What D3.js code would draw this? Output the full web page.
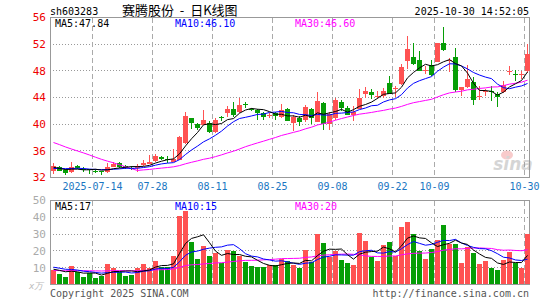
<!DOCTYPE html>
<html>
<head>
<meta charset="utf-8">
<title>sh603283 日K线图</title>
<script src="https://cdnjs.cloudflare.com/ajax/libs/d3/7.8.5/d3.min.js"></script>
<style>
  body { margin: 0; background: #fff; }
  text { font-family: "DejaVu Sans Mono", monospace; font-size: 10px; }
</style>
</head>
<body>
<script>
// trading days shown on the chart
var dates = [
  "2025-07-03","2025-07-04","2025-07-07","2025-07-08","2025-07-09","2025-07-10","2025-07-11","2025-07-14",
  "2025-07-15","2025-07-16","2025-07-17","2025-07-18","2025-07-21","2025-07-22","2025-07-23","2025-07-24",
  "2025-07-25","2025-07-28","2025-07-29","2025-07-30","2025-07-31","2025-08-01","2025-08-04","2025-08-05",
  "2025-08-06","2025-08-07","2025-08-08","2025-08-11","2025-08-12","2025-08-13","2025-08-14","2025-08-15",
  "2025-08-18","2025-08-19","2025-08-20","2025-08-21","2025-08-22","2025-08-25","2025-08-26","2025-08-27",
  "2025-08-28","2025-08-29","2025-09-01","2025-09-02","2025-09-03","2025-09-04","2025-09-05","2025-09-08",
  "2025-09-09","2025-09-10","2025-09-11","2025-09-12","2025-09-15","2025-09-16","2025-09-17","2025-09-18",
  "2025-09-19","2025-09-22","2025-09-23","2025-09-24","2025-09-25","2025-09-26","2025-09-29","2025-09-30",
  "2025-10-09","2025-10-10","2025-10-13","2025-10-14","2025-10-15","2025-10-16","2025-10-17","2025-10-20",
  "2025-10-21","2025-10-22","2025-10-23","2025-10-24","2025-10-27","2025-10-28","2025-10-29","2025-10-30"
];

var open = [
  33.0,33.65,33.1,32.85,33.75,33.3,33.2,33.05,33.0,32.8,33.6,34.2,33.7,33.5,33.5,33.95,
  34.1,34.45,35.1,34.8,34.45,34.7,37.1,41.0,40.0,39.9,40.2,38.8,41.05,41.7,42.3,41.9,
  43.05,42.3,42.1,41.7,41.35,41.6,41.0,42.3,40.15,41.0,40.65,42.3,40.4,43.2,40.0,40.9,
  43.35,42.5,41.4,42.4,44.45,44.8,44.15,44.2,46.25,45.3,46.0,49.45,50.05,49.6,48.05,48.85,
  49.4,52.2,49.5,50.1,45.1,45.6,46.35,44.0,44.95,45.05,44.5,44.8,47.95,47.45,47.4,47.85
];
var high = [
  34.2,33.7,33.25,34.3,33.85,33.55,33.3,33.2,33.05,34.15,34.3,34.35,33.9,33.7,34.1,34.6,
  35.35,35.6,35.25,35.25,36.25,38.2,41.85,41.0,40.2,42.1,40.5,41.0,41.2,42.8,43.3,44.0,
  43.35,42.4,42.3,41.9,41.6,41.9,43.0,42.4,41.4,41.2,42.9,42.5,44.8,43.3,41.9,43.95,
  43.6,42.7,42.8,45.2,45.6,45.25,44.95,45.45,47.2,45.7,49.0,53.25,52.2,50.95,48.75,49.6,
  52.2,54.6,50.0,51.5,45.6,48.85,47.1,45.7,45.35,45.8,44.9,46.45,48.7,48.1,47.95,52.0
];
var low = [
  32.5,32.9,32.3,32.7,33.3,32.85,32.6,32.6,32.5,32.65,33.5,33.5,33.3,33.1,32.9,33.75,
  33.95,34.35,34.6,34.2,34.3,34.6,37.1,39.4,39.2,39.8,38.75,38.7,40.5,41.2,41.0,41.7,
  42.4,41.9,40.6,40.7,40.9,40.7,40.9,40.4,39.05,39.65,40.4,40.15,40.3,39.05,39.2,40.65,
  42.0,41.3,40.5,42.3,43.9,43.8,43.7,44.0,44.5,44.0,45.9,48.35,48.9,47.95,47.5,47.2,
  49.3,51.0,47.9,44.9,44.25,45.45,42.85,43.6,44.35,43.6,42.7,44.6,47.35,46.45,46.7,47.7
];
var close = [
  33.7,33.0,32.6,33.55,33.4,33.2,33.05,33.0,32.9,33.55,34.1,33.6,33.5,33.45,33.55,34.25,
  34.35,35.25,34.8,34.7,34.85,38.1,41.2,40.2,39.4,40.6,38.9,40.6,41.0,42.3,41.4,42.9,
  43.0,42.2,41.7,41.1,41.4,41.1,42.1,40.5,41.1,40.4,42.6,40.9,43.5,40.0,41.5,43.6,
  42.5,41.4,41.9,44.0,44.95,44.3,44.2,44.95,44.6,45.4,48.55,51.25,49.0,48.0,48.1,47.3,
  52.2,51.2,49.6,45.1,45.6,46.8,43.6,44.2,45.0,45.0,44.0,45.85,48.05,47.4,47.45,50.45
];
// volume, 万手
var volume = [
  8.5,6.3,4.5,11.1,7.3,4.5,6.9,4.1,5.3,12.3,9.9,7.3,5.3,5.7,9.9,12.3,
  9.9,14.0,10.3,10.3,17.0,40.5,43.9,25.4,15.2,23.0,17.0,18.8,12.8,20.6,20.0,17.0,
  13.6,11.0,10.5,10.5,11.5,11.5,15.0,14.2,11.9,10.1,20.6,13.6,29.8,25.0,16.2,20.0,
  14.6,13.0,11.7,30.8,26.0,16.6,14.2,23.8,25.4,17.0,34.4,37.4,30.2,19.8,15.2,21.2,
  26.6,35.6,24.0,24.4,12.8,22.4,19.0,12.3,14.2,9.9,8.7,14.6,19.6,12.6,9.7,30.0
];

// the 29 sessions before 07-03, only needed for the moving averages
var priorClose = [
  42.6,43.1,42.8,42.2,41.9,42.5,42.9,42.4,41.8,41.6,42.3,42.6,42.0,41.5,
  31.8,32.3,31.9,32.2,32.0,31.7,
  32.6,33.1,33.4,33.0,33.6,33.9,33.5,33.2,33.4
];
var priorVolume = [
  6.8,7.5,8.2,6.9,7.1,7.8,6.5,7.4,8.0,7.2,6.6,7.9,7.3,6.8,7.6,7.0,7.7,8.1,6.9,6.7,
  12.4,10.8,11.9,11.2,11.2,
  9.8,8.6,9.4,9.2
];

var priceTicks = [32, 36, 40, 44, 48, 52, 56];
var volTicks = [10, 20, 30, 40, 50];
var tickDates = ["2025-07-14","2025-07-28","2025-08-11","2025-08-25","2025-09-08","2025-09-22","2025-10-09","2025-10-30"];

var UP = "#ff5252", DOWN = "#069e06";
var maColors = { 5: "#000", 10: "#00f", 30: "#f0f" };

function movingAvg(prior, vals, n) {
  var all = prior.concat(vals), off = prior.length;
  return vals.map(function (d, i) {
    return d3.mean(all.slice(off + i - n + 1, off + i + 1));
  });
}

var svg = d3.select("body").append("svg")
  .attr("width", 545)
  .attr("height", 300);

var left = 50, right = 530;
var x = d3.scaleBand().domain(dates).range([left, right]);
var y = d3.scaleLinear().domain([32, 56]).range([177.5, 17.5]);
var yv = d3.scaleLinear().domain([0, 50]).range([284.5, 200.5]);

function mid(d) { return x(d) + 3.5; }
function crisp(v) { return Math.floor(v) + 0.5; }

// ---------- header ----------
svg.append("text").attr("x", 50).attr("y", 15).attr("fill", "#000").text("sh603283");
svg.append("text").attr("x", 122).attr("y", 14.5).attr("fill", "#000")
  .style("font-family", "'Noto Sans CJK SC', sans-serif").style("font-size", "13px")
  .style("white-space", "pre")
  .text("赛腾股份  -  日K线图");
svg.append("text").attr("x", 529).attr("y", 15).attr("text-anchor", "end").attr("fill", "#000")
  .text("2025-10-30 14:52:05");

// ---------- grids ----------
function grid(g, yScale, ticks, top, bottom) {
  g.selectAll("line.h").data(ticks).enter().append("line")
    .attr("x1", left).attr("x2", right)
    .attr("y1", function (t) { return crisp(yScale(t)); })
    .attr("y2", function (t) { return crisp(yScale(t)); })
    .attr("stroke", "#999").attr("stroke-dasharray", "1,2");
  g.selectAll("line.v").data(tickDates).enter().append("line")
    .attr("x1", function (d) { return x(d) + 0.5; })
    .attr("x2", function (d) { return x(d) + 0.5; })
    .attr("y1", top).attr("y2", bottom)
    .attr("stroke", "#aaa").attr("stroke-dasharray", "5,3");
  g.append("rect")
    .attr("x", left + 0.5).attr("y", top)
    .attr("width", right - left - 1).attr("height", bottom - top)
    .attr("fill", "none").attr("stroke", "#999");
}

var gp = svg.append("g").attr("shape-rendering", "crispEdges");
grid(gp, y, priceTicks.slice(1, -1), 17.5, 177.5);
var gv = svg.append("g").attr("shape-rendering", "crispEdges");
grid(gv, yv, volTicks.slice(0, -1), 200.5, 284.5);

// ---------- axis labels ----------
svg.append("g").selectAll("text").data(priceTicks).enter().append("text")
  .attr("x", 46).attr("y", function (t) { return y(t); }).attr("dy", "0.35em")
  .attr("text-anchor", "end").attr("fill", "#e00")
  .style("font-size", "11px")
  .text(function (t) { return t; });

svg.append("g").selectAll("text").data(volTicks).enter().append("text")
  .attr("x", 46).attr("y", function (t) { return yv(t); }).attr("dy", "0.35em")
  .attr("text-anchor", "end").attr("fill", "#aaa")
  .style("font-size", "11px")
  .text(function (t) { return t; });

svg.append("text").attr("x", 29).attr("y", 289).attr("fill", "#bbb")
  .style("font-size", "9px").style("font-style", "italic").text("x万");

svg.append("g").selectAll("text").data(tickDates).enter().append("text")
  .attr("x", function (d) { return x(d) + 0.5; }).attr("y", 189.5)
  .attr("text-anchor", "middle").attr("fill", "#1a76c2")
  .text(function (d, i) { return i === 0 ? d : d.slice(5); });

// ---------- sina watermark ----------
var wm = svg.append("g").attr("opacity", 0.4);
wm.append("ellipse").attr("cx", 507).attr("cy", 155).attr("rx", 6).attr("ry", 4.5).attr("fill", "#f08080");
wm.append("text").attr("x", 513).attr("y", 170).attr("text-anchor", "middle")
  .attr("fill", "#999")
  .style("font-family", "'DejaVu Sans', sans-serif").style("font-size", "17px")
  .style("font-weight", "bold").style("font-style", "italic").text("sina");

// ---------- candles ----------
var idx = d3.range(dates.length);
var cg = svg.append("g").attr("shape-rendering", "crispEdges");
cg.selectAll("rect.wick").data(idx).enter().append("rect")
  .attr("x", function (i) { return x(dates[i]) + 3; })
  .attr("width", 1)
  .attr("y", function (i) { return Math.round(y(high[i])); })
  .attr("height", function (i) { return Math.max(1, Math.round(y(low[i]) - y(high[i]))); })
  .attr("fill", function (i) { return close[i] >= open[i] ? UP : DOWN; });
cg.selectAll("rect.body").data(idx).enter().append("rect")
  .attr("x", function (i) { return x(dates[i]) + 1; })
  .attr("width", 5)
  .attr("y", function (i) { return Math.round(y(Math.max(open[i], close[i]))); })
  .attr("height", function (i) { return Math.max(1, Math.round(Math.abs(y(open[i]) - y(close[i])))); })
  .attr("fill", function (i) { return close[i] >= open[i] ? UP : DOWN; });

// ---------- volume bars ----------
svg.append("g").attr("shape-rendering", "crispEdges")
  .selectAll("rect").data(idx).enter().append("rect")
  .attr("x", function (i) { return x(dates[i]) + 1; })
  .attr("width", 5)
  .attr("y", function (i) { return Math.round(yv(volume[i])); })
  .attr("height", function (i) { return 284 - Math.round(yv(volume[i])); })
  .attr("fill", function (i) { return close[i] >= open[i] ? UP : DOWN; });

// ---------- moving averages ----------
var clip = svg.append("defs");
clip.append("clipPath").attr("id", "cp").append("rect").attr("x", 51).attr("y", 18).attr("width", 478).attr("height", 159);
clip.append("clipPath").attr("id", "cv").append("rect").attr("x", 51).attr("y", 201).attr("width", 478).attr("height", 83);

function drawMA(prior, vals, yScale, clipId) {
  var out = {};
  [30, 10, 5].forEach(function (n) {
    var m = movingAvg(prior, vals, n);
    out[n] = m;
    svg.append("path")
      .datum(m)
      .attr("clip-path", "url(#" + clipId + ")")
      .attr("fill", "none")
      .attr("stroke", maColors[n])
      .attr("stroke-width", 1)
      .attr("d", d3.line()
        .x(function (d, i) { return mid(dates[i]); })
        .y(function (d) { return yScale(d); }));
  });
  return out;
}

var pm = drawMA(priorClose, close, y, "cp");
var vm = drawMA(priorVolume, volume, yv, "cv");

// ---------- MA legends ----------
var last = dates.length - 1;
function legend(yy, vals, fmt) {
  [[5, 55], [10, 175], [30, 295]].forEach(function (p) {
    svg.append("text").attr("x", p[1]).attr("y", yy)
      .attr("fill", maColors[p[0]])
      .text("MA" + p[0] + ":" + fmt(vals[p[0]][last]));
  });
}
legend(27, pm, function (v) { return v.toFixed(2); });
legend(210, vm, function (v) { return Math.floor(v); });

// ---------- footer ----------
svg.append("text").attr("x", 50).attr("y", 297).attr("fill", "#555").text("Copyright 2025 SINA.COM");
svg.append("text").attr("x", 529).attr("y", 297).attr("text-anchor", "end").attr("fill", "#555")
  .text("http://finance.sina.com.cn");
</script>
</body>
</html>
